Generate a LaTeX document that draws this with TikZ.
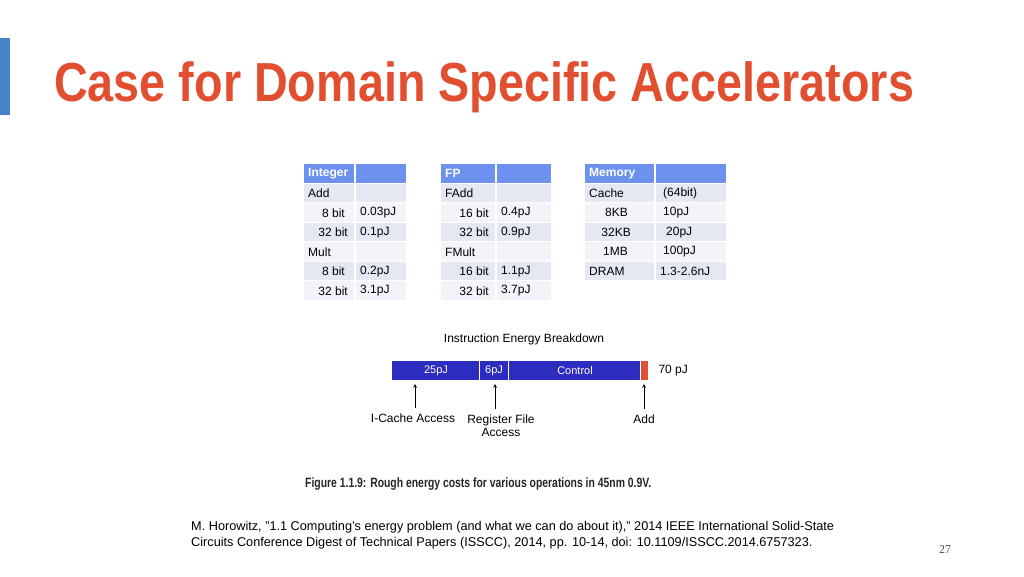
\documentclass[tikz,border=0pt]{standalone}
\usepackage{fontspec}
\setmainfont{Liberation Sans}
\usepackage{graphicx}
\definecolor{hdr}{RGB}{108,145,238}
\definecolor{rowA}{RGB}{228,232,242}
\definecolor{rowB}{RGB}{242,244,249}
\definecolor{titlered}{RGB}{226,79,48}
\definecolor{barblue}{RGB}{44,44,190}
\definecolor{sidebar}{RGB}{70,130,200}
\tikzset{x=1pt,y=-1pt,
 cell/.style={inner sep=0pt,font=\fontsize{12}{14}\selectfont},
 hcell/.style={inner sep=0pt,text=white,font=\bfseries\fontsize{12}{14}\selectfont},
 barlbl/.style={text=white,font=\fontsize{11}{13}\selectfont},
 note/.style={font=\fontsize{12}{13}\selectfont,align=center}}
\begin{document}
\begin{tikzpicture}
\useasboundingbox (0,0) rectangle (1024,576);
\fill[white] (0,0) rectangle (1024,576);
\fill[sidebar] (0,38) rectangle (10,115);
\node[anchor=west,text=titlered,inner sep=0pt] (title) at (54,87) {\scalebox{0.85}[1]{\fontsize{55}{60}\selectfont\bfseries Case for Domain Specific Accelerators}};
% tables
\foreach \xa/\xs/\xb/\n in {304/355/406/6, 441/496/551/6, 585/655/726/5}{
  \foreach \i in {0,...,\n}{
    \pgfmathsetmacro{\ya}{164+\i*19.5}
    \pgfmathsetmacro{\yb}{\ya+18.5}
    \ifnum\i=0 \def\cc{hdr}\else\ifodd\i \def\cc{rowA}\else\def\cc{rowB}\fi\fi
    \fill[\cc] (\xa,\ya) rectangle (\xs-0.7,\yb);
    \fill[\cc] (\xs+0.7,\ya) rectangle (\xb,\yb);
  }
}
% Integer
\node[hcell,anchor=west] (ih) at (308,173.8) {Integer};
\node[cell,anchor=west] (i1) at (308,193.3) {Add};
\node[cell,anchor=east] (i2) at (345,212.8) {8 bit};
\node[cell,anchor=west] (i2v) at (360,212.8) {0.03pJ};
\node[cell,anchor=east] (i3) at (348,232.3) {32 bit};
\node[cell,anchor=west] (i3v) at (360,232.3) {0.1pJ};
\node[cell,anchor=west] (i4) at (308,251.8) {Mult};
\node[cell,anchor=east] (i5) at (345,271.3) {8 bit};
\node[cell,anchor=west] (i5v) at (360,271.3) {0.2pJ};
\node[cell,anchor=east] (i6) at (348,290.8) {32 bit};
\node[cell,anchor=west] (i6v) at (360,290.8) {3.1pJ};
% FP
\node[hcell,anchor=west] (fh) at (445,173.8) {FP};
\node[cell,anchor=west] (f1) at (445,193.3) {FAdd};
\node[cell,anchor=east] (f2) at (489,212.8) {16 bit};
\node[cell,anchor=west] (f2v) at (501,212.8) {0.4pJ};
\node[cell,anchor=east] (f3) at (489,232.3) {32 bit};
\node[cell,anchor=west] (f3v) at (501,232.3) {0.9pJ};
\node[cell,anchor=west] (f4) at (445,251.8) {FMult};
\node[cell,anchor=east] (f5) at (489,271.3) {16 bit};
\node[cell,anchor=west] (f5v) at (501,271.3) {1.1pJ};
\node[cell,anchor=east] (f6) at (489,290.8) {32 bit};
\node[cell,anchor=west] (f6v) at (501,290.8) {3.7pJ};
% Memory
\node[hcell,anchor=west] (mh) at (589,173.8) {Memory};
\node[cell,anchor=west] (m1) at (589,193.3) {Cache};
\node[cell,anchor=west] (m1v) at (663,193.3) {(64bit)};
\node[cell,anchor=east] (m2) at (628,212.8) {8KB};
\node[cell,anchor=west] (m2v) at (663,212.8) {10pJ};
\node[cell,anchor=east] (m3) at (631,232.3) {32KB};
\node[cell,anchor=west] (m3v) at (666,232.3) {20pJ};
\node[cell,anchor=east] (m4) at (628,251.8) {1MB};
\node[cell,anchor=west] (m4v) at (663,251.8) {100pJ};
\node[cell,anchor=west] (m5) at (589,271.3) {DRAM};
\node[cell,anchor=west] (m5v) at (660,271.3) {1.3-2.6nJ};
% energy bar
\node[note] (bt) at (524,339) {Instruction Energy Breakdown};
\fill[barblue] (392,361) rectangle (640,380);
\fill[titlered] (641,361) rectangle (648,380);
\draw[white,line width=1pt] (479.5,361) -- (479.5,380) (508.5,361) -- (508.5,380) (640.5,361)--(640.5,380);
\node[barlbl] (b1) at (436,370.5) {25pJ};
\node[barlbl] (b2) at (494,370.5) {6pJ};
\node[barlbl] (b3) at (575,370.5) {Control};
\node[note,anchor=west] (tot) at (655,370.5) {70 pJ};
\node[note] (a1) at (413,418) {I-Cache Access};
\node[note] (a2) at (501,425.5) {Register File\\Access};
\node[note] (a3) at (644,419) {Add};
\coordinate (p1) at (415,384); \coordinate (p2) at (495,384); \coordinate (p3) at (644,384);
\draw[-stealth,line width=0.7pt] (a1.north -| p1) ++(0,-2) -- (p1);
\draw[-stealth,line width=0.7pt] (a2.north -| p2) ++(0,-2) -- (p2);
\draw[-stealth,line width=0.7pt] (a3.north -| p3) ++(0,-2) -- (p3);
\node[anchor=west,inner sep=0pt,text=black!85] (cap) at (305,484) {\scalebox{0.77}[1]{\fontsize{13.5}{15}\selectfont\bfseries Figure 1.1.9: Rough energy costs for various operations in 45nm 0.9V.}};
\node[anchor=north west,align=left,inner sep=0pt,font=\fontsize{12.7}{16.5}\selectfont] (ref) at (191,521) {M. Horowitz, "1.1 Computing's energy problem (and what we can do about it)," 2014 IEEE International Solid-State\\Circuits Conference Digest of Technical Papers (ISSCC), 2014, pp. 10-14, doi: 10.1109/ISSCC.2014.6757323.};
\node[text=black!70] (pg) at (945,550) {\fontspec{Liberation Serif}\fontsize{12}{14}\selectfont 27};
\end{tikzpicture}
\end{document}
